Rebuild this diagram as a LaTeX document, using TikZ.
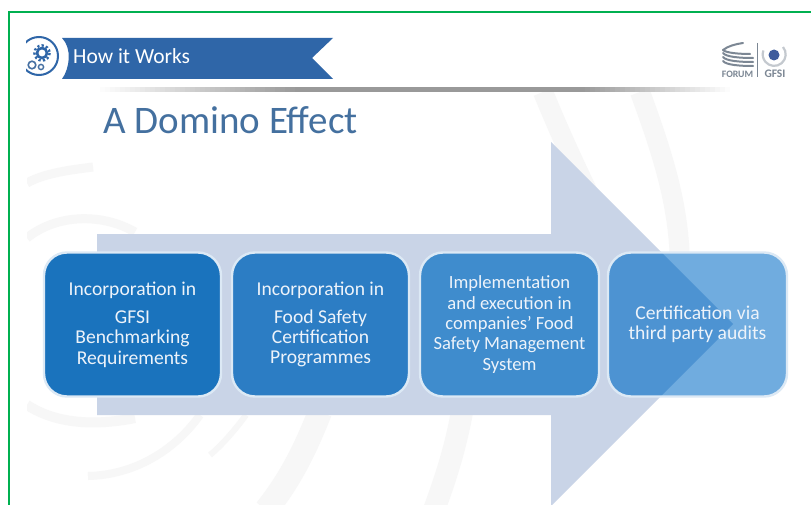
\documentclass[tikz,border=0pt]{standalone}
\usepackage{fontspec}
\setmainfont{Carlito}
\definecolor{frameGreen}{HTML}{00B050}
\definecolor{arrowBlue}{HTML}{C9D4E7}
\definecolor{ribbon}{HTML}{2F66A8}
\definecolor{titleBlue}{HTML}{44709F}
\definecolor{wm}{HTML}{F7F7F7}
\definecolor{boxA}{HTML}{1A73BD}
\definecolor{boxB}{HTML}{2C7DC4}
\definecolor{boxC}{HTML}{3F8CCD}
\definecolor{boxDlight}{HTML}{70ACDF}
\definecolor{boxDdark}{HTML}{4D93D2}
\definecolor{boxEdge}{HTML}{DCE9F5}
\definecolor{boxText}{HTML}{EDF3FA}
\definecolor{logoGrey}{HTML}{7C8794}
\definecolor{logoBlue}{HTML}{3F5C9C}
\tikzset{
  stagebox/.style={draw=boxEdge, line width=2.4pt, rounded corners=23pt, minimum height=144pt,
    text=boxText, align=center, inner sep=0pt, font=\fontsize{19.6}{20.4}\selectfont},
  wmband/.style={draw=wm, line cap=butt, fill=none},
  logoline/.style={draw=logoGrey, line cap=round, line width=2pt}
}
\begin{document}
\begin{tikzpicture}[x=1pt,y=-1pt]
\useasboundingbox (0,0) rectangle (811,505);
\fill[white] (0,0) rectangle (811,505);
\begin{scope}
\clip (27,92) rectangle (811,505);
% watermark bands
\draw[wmband,line width=20pt] (543,92) .. controls (575,170) and (600,215) .. (620,260);
\draw[wmband,line width=20pt] (640,92) .. controls (665,160) and (680,210) .. (680,270);
\draw[wmband,line width=24pt] (320,412) .. controls (305,450) and (290,480) .. (266,510);
\draw[wmband,line width=22pt] (462,412) .. controls (455,450) and (445,480) .. (434,510);
\draw[wmband,line width=6pt] (246,415) .. controls (235,430) and (222,445) .. (210,455);
\draw[wmband,line width=8pt] (200,415) .. controls (175,450) and (135,475) .. (88,476);
\draw[wmband,line width=9pt] (27,183) .. controls (45,173) and (70,170) .. (93,167);
\draw[wmband,line width=9pt] (27,238) .. controls (55,215) and (100,212) .. (135,232);
\draw[wmband,line width=10pt] (27,405) .. controls (50,420) and (85,428) .. (135,418);
\end{scope}
% frame
\draw[frameGreen,line width=2pt] (9,505) -- (9,12) -- (811,12);
% header shadow: a bar fading out to both ends
\foreach \i in {0,...,127}{
  \pgfmathsetmacro{\xa}{95+\i*5}
  \pgfmathsetmacro{\shadeval}{40*min(1,min(\i/40,(127-\i)/30))}
  \fill[black!\shadeval] (\xa,87) rectangle ++(5.3,5);
}
% ribbon
\fill[ribbon] (62,38) -- (333,38) -- (312,58) -- (333,79) -- (62,79)
  .. controls (70,68) and (72,48) .. cycle;
\node[anchor=west,text=white,inner sep=0pt,font=\fontsize{21.5}{24}\selectfont] (ribbonlabel) at (73,56) {How it Works};
% gear icon
\begin{scope}
\clip (26,30) rectangle (62,82);
\draw[ribbon,line width=2pt] (39,56) circle (19);
\end{scope}
\draw[ribbon,line width=2.6pt] (42,53) circle (5);
\draw[ribbon,line width=2.4pt,dash pattern=on 2.2pt off 2.2pt] (42,53) circle (7.6);
\draw[ribbon!70!logoGrey,line width=1.6pt] (32,65) circle (3.8);
\draw[ribbon!70!logoGrey,line width=1.4pt] (41,67) circle (2.6);
% title
\node[anchor=base west,text=titleBlue,inner sep=0pt,font=\fontsize{39}{42}\selectfont] (title) at (103,134) {A Domino Effect};
% logo
\draw[logoline] (723,50) .. controls (728,46) and (736,44) .. (743,43);
\draw[logoline] (723,53) .. controls (726,57) and (740,58) .. (753,58);
\draw[logoline] (723,57) .. controls (726,61) and (740,62) .. (753,62);
\draw[logoline] (723,61) .. controls (726,65) and (740,66) .. (753,66);
\draw[logoline] (723,50) .. controls (726,53) and (740,54) .. (750,54);
\draw[logoGrey,line width=0.8pt] (757,43) -- (757,77);
\fill[logoBlue] (774,55) circle (5.5);
\draw[logoGrey!45,line width=2.2pt] (783,47) arc (-40:200:11.5);
\node[text=logoGrey,inner sep=0pt,font=\bfseries\fontsize{9.8}{10}\selectfont] (forum) at (737.5,74) {FORUM};
\node[text=logoGrey,inner sep=0pt,font=\bfseries\fontsize{11.5}{12}\selectfont] (gfsi) at (775,74) {GFSI};
% big arrow
\fill[arrowBlue] (97,234) -- (551,234) -- (551,142) -- (733,324) -- (551,506) -- (551,415) -- (97,415) -- cycle;
% stage boxes
\node[stagebox,fill=boxA,minimum width=177pt] (s1) at (132.5,324.5) {Incorporation in\\[7.6pt]GFSI\\Benchmarking\\Requirements};
\node[stagebox,fill=boxB,minimum width=177pt] (s2) at (320.5,324.5) {Incorporation in\\[7.6pt]Food Safety\\Certification\\Programmes};
\node[stagebox,fill=boxC,minimum width=179pt,font=\fontsize{18.6}{20.4}\selectfont] (s3) at (509.5,324.5) {Implementation\\and execution in\\companies' Food\\Safety Management\\System};
% fourth box: the arrow shows through it
\fill[boxDlight,rounded corners=23pt] (608,252.5) rectangle (787,396.5);
\begin{scope}
\clip[rounded corners=23pt] (608,252.5) rectangle (787,396.5);
\fill[boxDdark] (600,240) -- (649,240) -- (733,324) -- (649,408) -- (600,408) -- cycle;
\end{scope}
\node[stagebox,minimum width=179pt] (s4) at (697.5,324.5) {Certification via\\third party audits};
\end{tikzpicture}
\end{document}
